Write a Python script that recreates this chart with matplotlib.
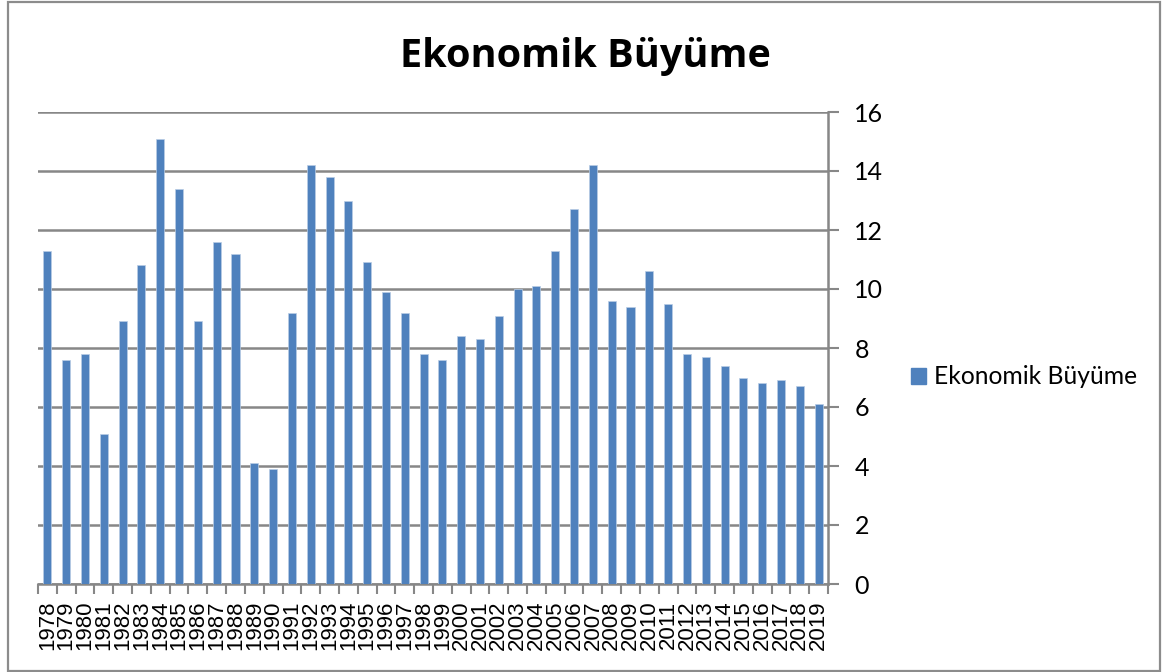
import matplotlib
matplotlib.use("Agg")
import matplotlib.pyplot as plt
from matplotlib.patches import Rectangle
import numpy as np

years = [str(y) for y in range(1978, 2020)]
growth = [11.3, 7.6, 7.8, 5.1, 8.9, 10.8, 15.1, 13.4, 8.9, 11.6,
          11.2, 4.1, 3.9, 9.2, 14.2, 13.8, 13.0, 10.9, 9.9, 9.2,
          7.8, 7.6, 8.4, 8.3, 9.1, 10.0, 10.1, 11.3, 12.7, 14.2,
          9.6, 9.4, 10.6, 9.5, 7.8, 7.7, 7.4, 7.0, 6.8, 6.9,
          6.7, 6.1]
yticks = [0, 2, 4, 6, 8, 10, 12, 14, 16]
title = "Ekonomik Büyüme"
series_name = "Ekonomik Büyüme"

W, H = 1176, 672
fig = plt.figure(figsize=(W / 100, H / 100), dpi=100)
bar_color = "#4F81BD"
grid_color = "#878787"

# outer chart border
fig.patches.append(Rectangle((8 / W, 1 / H), (1160 - 8) / W, (670 - 1) / H,
                             transform=fig.transFigure, fill=False,
                             edgecolor="#8C8C8C", linewidth=1.6))

ax = fig.add_axes([38 / W, (H - 584) / H, (828 - 38) / W, (584 - 112) / H])
x = np.arange(len(years))
ax.bar(x, growth, width=0.43, color=bar_color, edgecolor="#B9CDE5",
       linewidth=0.5, zorder=3, label=series_name)

ax.set_xlim(-0.5, len(years) - 0.5)
ax.set_ylim(0, 16)
ax.set_yticks(yticks)
ax.yaxis.tick_right()
ax.grid(axis="y", color=grid_color, linewidth=1.8, zorder=0)

for s in ["top", "left"]:
    ax.spines[s].set_visible(False)
for s in ["right", "bottom"]:
    ax.spines[s].set_color(grid_color)
    ax.spines[s].set_linewidth(1.8)

ax.tick_params(axis="y", direction="out", length=8, width=1.5, color=grid_color,
               labelsize=18, pad=11)
for lbl in ax.get_yticklabels():
    lbl.set_fontfamily("Lato")

ax.set_xticks(x)
ax.set_xticklabels(years, rotation=90, fontsize=16, fontfamily="Liberation Sans")
ax.set_xticks(np.arange(-0.5, len(years), 1), minor=True)
ax.tick_params(axis="x", which="major", length=0, pad=12)
ax.tick_params(axis="x", which="minor", length=7, width=1.5, color=grid_color)

fig.text(585 / W, 1 - 56 / H, title, ha="center", va="center",
         fontsize=28.5, fontweight="bold", fontfamily="Open Sans")

leg = fig.legend(handles=[Rectangle((0, 0), 1, 1, color=bar_color)],
                 labels=[series_name], loc="center left",
                 bbox_to_anchor=(889 / W, 1 - 377 / H), frameon=False,
                 handlelength=0.6, handleheight=0.6, handletextpad=0.35,
                 prop={"family": "Lato", "size": 17.7})

fig.savefig("out.png", dpi=100)
